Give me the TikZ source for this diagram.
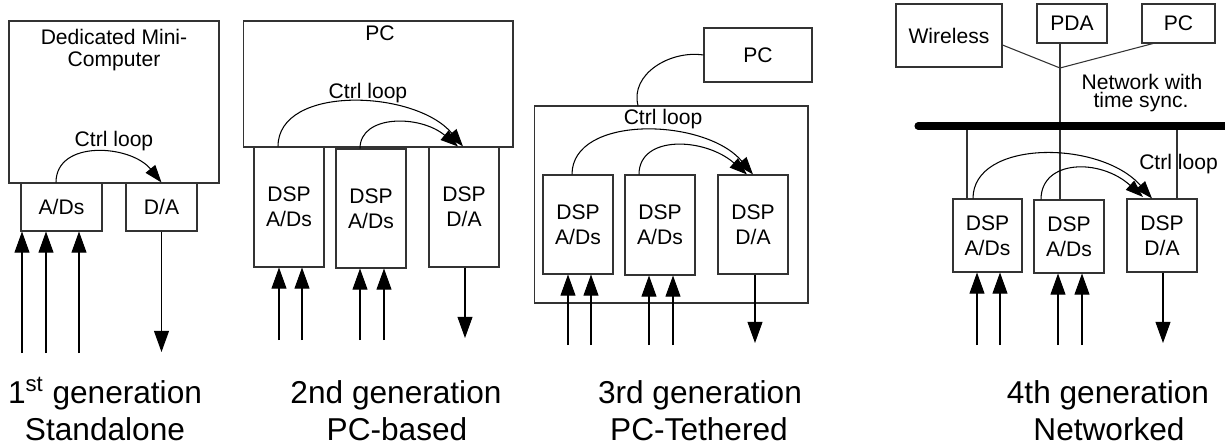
\documentclass[tikz,border=0pt]{standalone}
\usepackage{fontspec}
\setmainfont{Liberation Sans}
\usetikzlibrary{arrows.meta}

\begin{document}
\begin{tikzpicture}[x=0.02cm, y=-0.02cm,
  every node/.style={font=\fontsize{12}{14}\selectfont, inner sep=0pt},
  box/.style={draw=black!80, line width=0.6pt, align=center},
  gencap/.style={font=\fontsize{18}{21}\selectfont, anchor=base},
  wire/.style={draw=black!80, line width=0.6pt},
  sig/.style={line width=0.6pt, -{Triangle[length=12pt, width=8.5pt]}},
  ctrl/.style={line width=0.6pt, -{Triangle[length=10pt, width=7pt]}}]
  \useasboundingbox (0,0) rectangle (1225,446);

  % 1st generation
  \node[box, minimum width=4.2cm, minimum height=3.24cm] (mini) at (114,102) {};
  \node[align=center, font=\fontsize{12}{12.5}\selectfont] (minitxt) at (114,50.5) {Dedicated Mini-\\Computer};
  \node[box, minimum width=1.62cm, minimum height=0.96cm] (ad1) at (61.5,207) {A/Ds};
  \node[box, minimum width=1.42cm, minimum height=0.96cm] (da1) at (161.5,207) {D/A};
  \node (loop1) at (114,141.5) {Ctrl loop};
  \draw[ctrl] (56,0|-ad1.north) .. controls +(0,-43) and +(-31,-38) .. (da1.north);
  \coordinate (in11) at (22,353);
  \coordinate (in12) at (46,353);
  \coordinate (in13) at (79,353);
  \coordinate (out1) at (161.5,352);
  \draw[sig] (in11) -- (in11|-ad1.south);
  \draw[sig] (in12) -- (in12|-ad1.south);
  \draw[sig] (in13) -- (in13|-ad1.south);
  \draw[sig] (da1.south) -- (out1);
  \node[gencap] (gen1) at (105,403) {1\textsuperscript{st} generation};
  \node[gencap] (kind1) at (105,440) {Standalone};

  % 2nd generation
  \node[box, minimum width=5.4cm, minimum height=2.52cm] (pc2) at (378,84) {};
  \node (pc2txt) at (380,33.5) {PC};
  \node[box, minimum width=1.4cm, minimum height=2.4cm] (b21) at (289,207) {DSP\\A/Ds};
  \node[box, minimum width=1.4cm, minimum height=2.38cm] (b22) at (371,208.5) {DSP\\A/Ds};
  \node[box, minimum width=1.4cm, minimum height=2.4cm] (b23) at (464,207) {DSP\\D/A};
  \node (loop2) at (368,93) {Ctrl loop};
  \draw[ctrl] (278,0|-b21.north) .. controls +(0,-62) and +(-48,-57) .. (463,0|-b23.north);
  \draw[ctrl] (360,0|-b22.north) .. controls +(0,-34) and +(-38,-32) .. (458,0|-b23.north);
  \coordinate (in21) at (279,340);
  \coordinate (in22) at (302,340);
  \coordinate (in23) at (360,340);
  \coordinate (in24) at (384,340);
  \coordinate (out2) at (465,338);
  \draw[sig] (in21) -- (in21|-b21.south);
  \draw[sig] (in22) -- (in22|-b21.south);
  \draw[sig] (in23) -- (in23|-b22.south);
  \draw[sig] (in24) -- (in24|-b22.south);
  \draw[sig] (out2|-b23.south) -- (out2);
  \node[gencap] (gen2) at (396,403) {2nd generation};
  \node[gencap] (kind2) at (397,440) {PC-based};

  % 3rd generation
  \node[box, minimum width=2.16cm, minimum height=1.08cm] (pc3) at (758,55) {PC};
  \node[box, minimum width=5.48cm, minimum height=3.94cm] (outer) at (671,204.5) {};
  \draw[line width=0.6pt] (638,0|-outer.north) .. controls +(-8,-31) and +(-34,-5) .. (pc3.west);
  \node[box, minimum width=1.4cm, minimum height=1.98cm] (b31) at (578,224.5) {DSP\\A/Ds};
  \node[box, minimum width=1.4cm, minimum height=2cm] (b32) at (660,225) {DSP\\A/Ds};
  \node[box, minimum width=1.4cm, minimum height=1.98cm] (b33) at (753,224.5) {DSP\\D/A};
  \node (loop3) at (663,119.5) {Ctrl loop};
  \draw[ctrl] (572,0|-b31.north) .. controls +(0,-60) and +(-48,-57) .. (753,0|-b33.north);
  \draw[ctrl] (639,0|-b32.north) .. controls +(0,-40) and +(-42,-37) .. (747,0|-b33.north);
  \coordinate (in31) at (568,345);
  \coordinate (in32) at (591,345);
  \coordinate (in33) at (649,345);
  \coordinate (in34) at (673,345);
  \coordinate (out3) at (755,343);
  \draw[sig] (in31) -- (in31|-b31.south);
  \draw[sig] (in32) -- (in32|-b31.south);
  \draw[sig] (in33) -- (in33|-b32.south);
  \draw[sig] (in34) -- (in34|-b32.south);
  \draw[sig] (out3|-b33.south) -- (out3);
  \node[gencap] (gen3) at (700,403) {3rd generation};
  \node[gencap] (kind3) at (699,440) {PC-Tethered};

  % 4th generation
  \node[box, minimum width=2.12cm, minimum height=1.26cm] (wl) at (949,35.5) {Wireless};
  \node[box, minimum width=1.4cm, minimum height=0.78cm] (pda) at (1072,23.5) {PDA};
  \node[box, minimum width=1.46cm, minimum height=0.78cm] (pc4) at (1178.5,23.5) {PC};
  \node[box, minimum width=1.38cm, minimum height=1.46cm] (b41) at (987.5,235.5) {DSP\\A/Ds};
  \node[box, minimum width=1.4cm, minimum height=1.46cm] (b42) at (1069,236.5) {DSP\\A/Ds};
  \node[box, minimum width=1.4cm, minimum height=1.46cm] (b43) at (1162,235.5) {DSP\\D/A};
  \coordinate (hub) at (1060,68);
  \coordinate (busl) at (918,126);
  \coordinate (busr) at (1226,126);
  \draw[wire] (wl.east|-0,45) -- (hub);
  \draw[wire] (1060,0|-pda.south) -- (hub);
  \draw[wire] (1153,0|-pc4.south) -- (hub);
  \draw[wire] (hub) -- (1060,0|-b42.north);
  \draw[wire] (967,0|-busl) -- (967,0|-b41.north);
  \draw[wire] (1177,0|-busl) -- (1177,0|-b43.north);
  \draw[line width=4pt, line cap=round] (busl) -- (busr);
  \node (nettxt1) at (1142,81.5) {Network with};
  \node (nettxt2) at (1141,102.5) {time sync.};
  \node (loop4) at (1178.5,164.5) {Ctrl loop};
  \draw[ctrl] (973,0|-b41.north) .. controls +(0,-59) and +(-52,-59) .. (1152,0|-b43.north);
  \draw[ctrl] (1041,0|-b42.north) .. controls +(0,-40) and +(-43,-39) .. (1143,197);
  \coordinate (in41) at (977,345);
  \coordinate (in42) at (1000,345);
  \coordinate (in43) at (1058,345);
  \coordinate (in44) at (1082,345);
  \coordinate (out4) at (1163,343);
  \draw[sig] (in41) -- (in41|-b41.south);
  \draw[sig] (in42) -- (in42|-b41.south);
  \draw[sig] (in43) -- (in43|-b42.south);
  \draw[sig] (in44) -- (in44|-b42.south);
  \draw[sig] (out4|-b43.south) -- (out4);
  \node[gencap] (gen4) at (1108,403) {4th generation};
  \node[gencap] (kind4) at (1109,440) {Networked};
\end{tikzpicture}
\end{document}
